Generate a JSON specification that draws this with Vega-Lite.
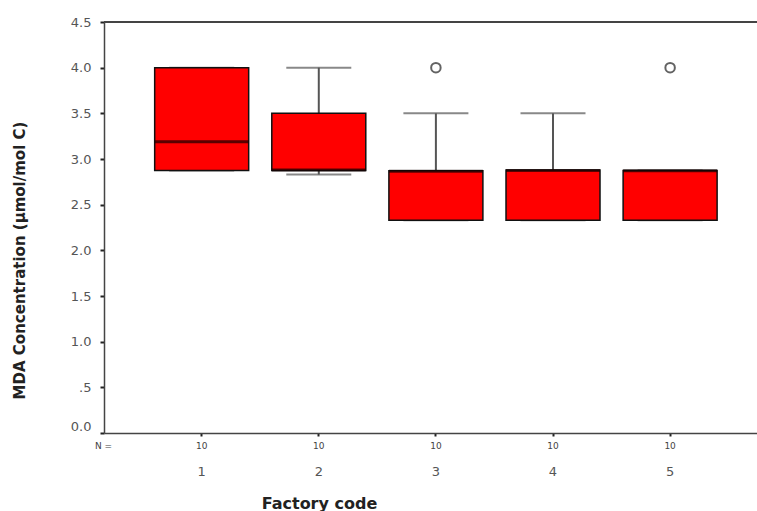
{
  "$schema": "https://vega.github.io/schema/vega-lite/v6.json",
  "width": 653,
  "height": 411,
  "autosize": {"type": "none"},
  "padding": {"left": 104, "top": 22, "right": 0, "bottom": 78},
  "background": "white",
  "config": {
    "view": {"stroke": null},
    "font": "DejaVu Sans"
  },
  "datasets": {
    "boxes": [
      {"factory": "1", "n": 10, "lower": 2.875, "q1": 2.875, "median": 3.19, "q3": 4.0, "upper": 4.0},
      {"factory": "2", "n": 10, "lower": 2.83, "q1": 2.875, "median": 2.88, "q3": 3.5, "upper": 4.0},
      {"factory": "3", "n": 10, "lower": 2.33, "q1": 2.33, "median": 2.865, "q3": 2.87, "upper": 3.5},
      {"factory": "4", "n": 10, "lower": 2.33, "q1": 2.33, "median": 2.875, "q3": 2.88, "upper": 3.5},
      {"factory": "5", "n": 10, "lower": 2.33, "q1": 2.33, "median": 2.87, "q3": 2.875, "upper": 2.875}
    ],
    "outliers": [
      {"factory": "3", "value": 4.0},
      {"factory": "5", "value": 4.0}
    ]
  },
  "data": {"name": "boxes"},
  "resolve": {"axis": {"x": "independent"}},
  "layer": [
    {
      "mark": {"type": "rule", "color": "#444", "strokeWidth": 1.5},
      "encoding": {
        "y": {"datum": 4.5, "type": "quantitative", "scale": {"domain": [0, 4.5]}}
      }
    },
    {
      "mark": {"type": "rule", "color": "#555", "strokeWidth": 2},
      "encoding": {
        "x": {
          "field": "factory", "type": "nominal",
          "scale": {"type": "band", "paddingInner": 0, "paddingOuter": 0.288, "align": 0.58},
          "axis": {
            "orient": "bottom",
            "title": "Factory code",
            "titleFont": "DejaVu Sans",
            "titleFontSize": 16,
            "titleFontWeight": "bold",
            "titleColor": "#222",
            "titleX": 215,
            "titleY": 70,
            "titleAlign": "center",
            "titleBaseline": "middle",
            "labelAngle": 0,
            "labelFont": "DejaVu Sans",
            "labelFontSize": 13,
            "labelColor": "#555",
            "labelPadding": 29,
            "tickSize": 3,
            "tickWidth": 2,
            "tickColor": "#222",
            "domainColor": "#444",
            "domainWidth": 1.5
          }
        },
        "y": {
          "field": "upper", "type": "quantitative",
          "scale": {"domain": [0, 4.5], "nice": false},
          "axis": {
            "title": "MDA Concentration (µmol/mol C)",
            "titleFont": "DejaVu Sans",
            "titleFontSize": 15,
            "titleFontWeight": "bold",
            "titleColor": "#222",
            "titleX": -85,
            "titleY": 238,
            "titleAlign": "center",
            "titleBaseline": "middle",
            "titleAngle": -90,
            "values": [0, 0.5, 1, 1.5, 2, 2.5, 3, 3.5, 4, 4.5],
            "labelExpr": "datum.value == 0.5 ? '.5' : format(datum.value, '.1f')",
            "labelFont": "DejaVu Sans",
            "labelFontSize": 13,
            "labelColor": "#555",
            "labelPadding": 9,
            "labelBaseline": {"condition": {"test": "datum.value == 0", "value": "bottom"}, "value": "middle"},
            "tickSize": 4,
            "tickWidth": 2,
            "tickColor": "#222",
            "domainColor": "#444",
            "domainWidth": 1.5,
            "grid": false
          }
        },
        "y2": {"field": "lower"}
      }
    },
    {
      "mark": {"type": "tick", "color": "#555", "thickness": 2, "size": 65, "orient": "horizontal"},
      "encoding": {
        "x": {"field": "factory", "type": "nominal", "axis": null},
        "y": {"field": "upper", "type": "quantitative"}
      }
    },
    {
      "mark": {"type": "tick", "color": "#555", "thickness": 2, "size": 65, "orient": "horizontal"},
      "encoding": {
        "x": {"field": "factory", "type": "nominal", "axis": null},
        "y": {"field": "lower", "type": "quantitative"}
      }
    },
    {
      "mark": {"type": "bar", "fill": "#ff0000", "stroke": "#111", "strokeWidth": 1.5, "size": 94},
      "encoding": {
        "x": {"field": "factory", "type": "nominal", "axis": null},
        "y": {"field": "q1", "type": "quantitative"},
        "y2": {"field": "q3"}
      }
    },
    {
      "mark": {"type": "tick", "color": "#150000", "thickness": 3, "size": 94, "orient": "horizontal"},
      "encoding": {
        "x": {"field": "factory", "type": "nominal", "axis": null},
        "y": {"field": "median", "type": "quantitative"}
      }
    },
    {
      "data": {"name": "outliers"},
      "mark": {"type": "point", "shape": "circle", "filled": false, "stroke": "#222", "strokeWidth": 2, "size": 90},
      "encoding": {
        "x": {"field": "factory", "type": "nominal", "axis": null},
        "y": {"field": "value", "type": "quantitative"}
      }
    },
    {
      "mark": {"type": "text", "font": "DejaVu Sans", "fontSize": 9, "color": "#444", "baseline": "middle", "dy": 12.5},
      "encoding": {
        "x": {
          "field": "factory", "type": "nominal",
          "axis": {
            "orient": "bottom",
            "labels": false,
            "ticks": false,
            "domain": false,
            "title": "N =",
            "titleFont": "DejaVu Sans",
            "titleFontSize": 9,
            "titleFontWeight": "normal",
            "titleColor": "#444",
            "titleX": -1,
            "titleY": 12.5,
            "titleAlign": "center",
            "titleBaseline": "middle"
          }
        },
        "y": {"datum": 0, "type": "quantitative"},
        "text": {"field": "n", "type": "quantitative"}
      }
    }
  ]
}
